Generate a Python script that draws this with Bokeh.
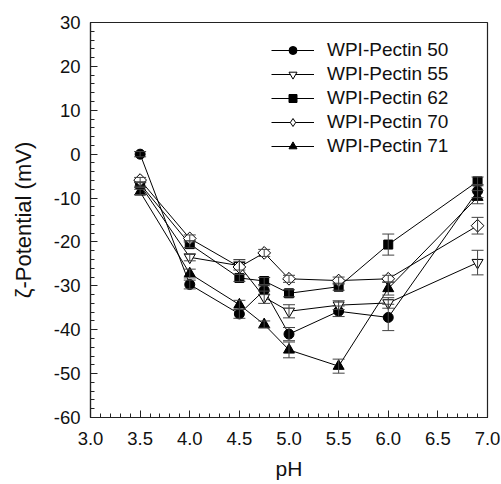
import math
from bokeh.plotting import figure
from bokeh.models import (Range1d, SingleIntervalTicker, Whisker, TeeHead, ColumnDataSource,
                          Legend, LegendItem, PrintfTickFormatter)
from bokeh.embed import file_html
from bokeh.resources import INLINE

ph = [3.5, 4.0, 4.5, 4.75, 5.0, 5.5, 6.0, 6.9]

p50 = [0.0, -29.7, -36.4, -31.0, -41.0, -35.8, -37.2, -8.4]
p55 = [-7.0, -23.5, -25.4, -32.6, -35.8, -34.4, -33.9, -24.7]
p62 = [-6.8, -20.5, -28.2, -28.9, -31.7, -30.2, -20.6, -6.2]
p70 = [-5.9, -19.2, -25.7, -22.5, -28.4, -28.8, -28.4, -16.3]
p71 = [-8.6, -27.2, -34.3, -38.8, -44.6, -48.3, -30.6, -9.8]

e50 = [0.6, 1.0, 1.0, 1.0, 1.5, 1.2, 3.0, 1.5]
e55 = [0.6, 0.8, 1.0, 1.4, 1.5, 1.0, 1.2, 2.8]
e62 = [0.5, 0.8, 0.8, 0.8, 0.8, 0.8, 2.4, 1.0]
e70 = [0.6, 0.8, 1.7, 0.8, 0.8, 0.8, 0.8, 1.9]
e71 = [0.6, 1.0, 1.0, 0.8, 1.8, 1.6, 1.5, 1.5]

labels = ["WPI-Pectin 50", "WPI-Pectin 55", "WPI-Pectin 62", "WPI-Pectin 70", "WPI-Pectin 71"]
x_title = "pH"
y_title = "ζ-Potential (mV)"
FONT = "Liberation Sans"

p = figure(width=501, height=484, output_backend="svg", toolbar_location=None,
           x_range=Range1d(3.0, 7.0), y_range=Range1d(-60, 30),
           min_border_left=90, min_border_right=14, min_border_top=22, min_border_bottom=67)
p.grid.visible = False
p.outline_line_color = "#222222"
p.outline_line_width = 1.2
p.background_fill_color = "white"
p.border_fill_color = "white"

p.xaxis.ticker = SingleIntervalTicker(interval=0.5, num_minor_ticks=5)
p.yaxis.ticker = SingleIntervalTicker(interval=10, num_minor_ticks=5)
p.xaxis.formatter = PrintfTickFormatter(format="%.1f")
p.yaxis.formatter = PrintfTickFormatter(format="%d")
for ax in (p.xaxis[0], p.yaxis[0]):
    ax.major_tick_in = 7
    ax.major_tick_out = 0
    ax.minor_tick_in = 4
    ax.minor_tick_out = 0
    ax.axis_line_color = "#222222"
    ax.axis_line_width = 1.2
    ax.major_tick_line_color = "#222222"
    ax.minor_tick_line_color = "#222222"
    ax.major_label_text_font = FONT
    ax.major_label_text_font_size = "18.5px"
    ax.major_label_text_color = "#111111"
    ax.axis_label_text_font = FONT
    ax.axis_label_text_font_size = "21px"
    ax.axis_label_text_font_style = "normal"
    ax.axis_label_text_color = "#111111"
p.yaxis.axis_label_text_font_size = "22px"
p.xaxis.axis_label = x_title
p.yaxis.axis_label = y_title
p.xaxis.major_label_standoff = 14
p.yaxis.major_label_standoff = 10
p.xaxis.axis_label_standoff = 9
p.yaxis.axis_label_standoff = 15

# marker, fill, plot size, angle, legend marker, legend size
series = [
    (p50, e50, "circle", "black", 10, 0.0, "circle", 8),
    (p55, e55, "inverted_triangle", "white", 11, 0.0, "inverted_triangle", 9),
    (p62, e62, "square", "black", 9, 0.0, "square", 7),
    (p70, e70, "square", "white", 9, math.pi / 4, "diamond", 12),
    (p71, e71, "triangle", "black", 11, 0.0, "triangle", 9),
]

items = []
for (vals, errs, marker, fill, size, ang, lmarker, lsize), lab in zip(series, labels):
    src = ColumnDataSource(dict(x=ph, y=vals,
                                lo=[v - e for v, e in zip(vals, errs)],
                                hi=[v + e for v, e in zip(vals, errs)]))
    w = Whisker(source=src, base="x", upper="hi", lower="lo", dimension="height",
                line_color="#444444", line_width=1,
                upper_head=TeeHead(size=12, line_color="#444444", line_width=1),
                lower_head=TeeHead(size=12, line_color="#444444", line_width=1),
                level="glyph")
    p.add_layout(w)
    ln = p.line("x", "y", source=src, line_color="black", line_width=1)
    # smaller key marker (used by the legend), hidden beneath the plotted marker
    key = p.scatter("x", "y", source=src, marker=lmarker, size=lsize,
                    fill_color=fill, line_color="black", line_width=1)
    p.scatter("x", "y", source=src, marker=marker, size=size, angle=ang,
              fill_color=fill, line_color="black", line_width=1)
    items.append(LegendItem(label=lab, renderers=[ln, key]))

legend = Legend(items=items, location=(181, 260),
                glyph_width=43, glyph_height=20, label_height=20, spacing=2,
                label_standoff=13, padding=0, margin=0,
                border_line_color=None, background_fill_alpha=0,
                label_text_font=FONT, label_text_font_size="19px",
                label_text_color="#111111")
p.add_layout(legend, "center")

open("out.html", "w").write(file_html(p, INLINE))
